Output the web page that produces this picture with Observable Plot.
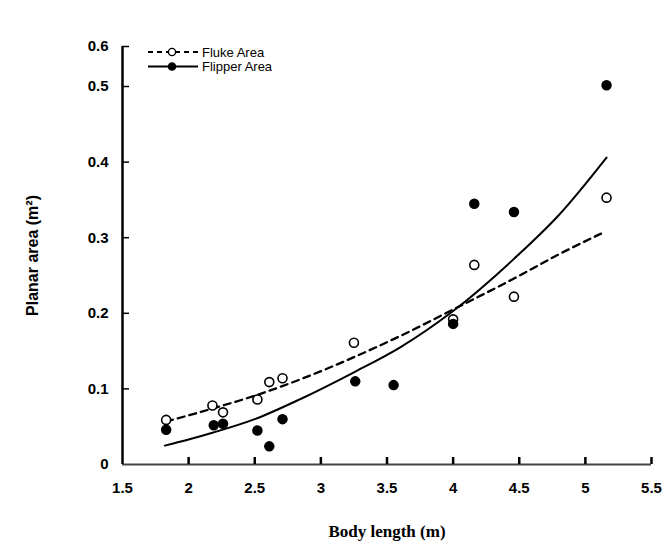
<!DOCTYPE html>
<html><head><meta charset="utf-8">
<script src="https://cdn.jsdelivr.net/npm/d3@7"></script>
<script src="https://cdn.jsdelivr.net/npm/@observablehq/plot@0.6"></script>
<style>
body{margin:0;background:#fff;}
#wrap{position:relative;width:664px;height:544px;}
#legend{position:absolute;left:0;top:0;pointer-events:none;}
g[aria-label="x-axis label"] text{font-family:"Liberation Serif","Times New Roman",serif;font-size:17px;}
g[aria-label="y-axis label"] text{font-size:16px;}
</style></head><body>
<div id="wrap"></div>
<script>
// ---- data ----
const xTicks = [1.5, 2, 2.5, 3, 3.5, 4, 4.5, 5, 5.5];
const yTicks = [0, 0.1, 0.2, 0.3, 0.4, 0.5, 0.6];

const flukeLengths = [1.83, 2.18, 2.26, 2.52, 2.61, 2.71, 3.25, 4.00, 4.16, 4.46, 5.16];
const flukeAreas   = [0.059, 0.078, 0.069, 0.086, 0.109, 0.114, 0.161, 0.192, 0.264, 0.222, 0.353];

const flipperLengths = [1.83, 2.19, 2.26, 2.52, 2.61, 2.71, 3.26, 3.55, 4.00, 4.16, 4.46, 5.16];
const flipperAreas   = [0.046, 0.052, 0.054, 0.045, 0.024, 0.060, 0.110, 0.105, 0.186, 0.345, 0.334, 0.503];

const flukeFitX = [1.83, 2.0, 2.2, 2.5, 2.85, 3.25, 3.6, 4.0, 4.46, 4.8, 5.15];
const flukeFitY = [0.057, 0.065, 0.075, 0.091, 0.113, 0.142, 0.170, 0.205, 0.246, 0.278, 0.308];

const flipperFitX = [1.82, 2.0, 2.18, 2.5, 2.85, 3.25, 3.6, 4.0, 4.46, 4.8, 5.16];
const flipperFitY = [0.025, 0.033, 0.042, 0.060, 0.087, 0.122, 0.155, 0.203, 0.272, 0.330, 0.406];

const seriesNames = ["Fluke Area", "Flipper Area"];

// ---- tables ----
const fluke = flukeLengths.map((x, i) => ({x, y: flukeAreas[i]}));
const flipper = flipperLengths.map((x, i) => ({x, y: flipperAreas[i]}));
const flukeFit = flukeFitX.map((x, i) => ({x, y: flukeFitY[i]}));
const flipperFit = flipperFitX.map((x, i) => ({x, y: flipperFitY[i]}));

const chart = Plot.plot({
  width: 664,
  height: 544,
  marginLeft: 122,
  marginRight: 13,
  marginTop: 46,
  marginBottom: 80,
  style: {fontFamily: "Arial, 'Liberation Sans', sans-serif", fontSize: "15px", fontWeight: "bold", color: "#000", background: "#fff"},
  x: {type: "linear", domain: [1.5, 5.5], range: [122, 651]},
  y: {type: "linear", domain: [0, 0.5, 0.6], range: [464, 86, 46]},
  marks: [
    Plot.ruleY([0], {stroke: "#444", strokeWidth: 2}),
    Plot.ruleX([1.5], {stroke: "#000", strokeWidth: 2.5}),
    // inward tick marks
    Plot.tickX(xTicks.slice(1), {x: d => d, stroke: "#000", strokeWidth: 2.5, insetTop: 411}),
    Plot.tickY(yTicks.slice(1), {y: d => d, stroke: "#000", strokeWidth: 1.5, insetRight: 522}),
    Plot.axisX({ticks: xTicks, tickFormat: d => String(d), tickSize: 0, tickPadding: 18,
      label: "Body length (m)", labelAnchor: "center", labelOffset: 72, labelArrow: "none"}),
    Plot.axisY({ticks: yTicks, tickFormat: d => String(d), tickSize: 0, tickPadding: 14,
      label: "Planar area (m²)", labelAnchor: "center", labelOffset: 96, labelArrow: "none"}),
    Plot.line(flukeFit, {x: "x", y: "y", stroke: "#000", strokeWidth: 2.3, strokeDasharray: "7,5", curve: "monotone-x"}),
    Plot.line(flipperFit, {x: "x", y: "y", stroke: "#000", strokeWidth: 2, curve: "monotone-x"}),
    Plot.dot(fluke, {x: "x", y: "y", r: 4.5, fill: "#fff", stroke: "#000", strokeWidth: 1.6}),
    Plot.dot(flipper, {x: "x", y: "y", r: 4.5, fill: "#000", stroke: "#000"})
  ]
});

const wrap = document.getElementById("wrap");
wrap.appendChild(chart);

// ---- legend (overlay, top-left of plot) ----
const lg = d3.select(wrap).append("svg").attr("id", "legend")
  .attr("width", 664).attr("height", 80)
  .style("font-family", "Arial, 'Liberation Sans', sans-serif").style("font-size", "13px");
const rows = lg.selectAll("g").data(seriesNames).join("g")
  .attr("transform", (d, i) => `translate(148,${52 + i * 14.5})`);
rows.append("line").attr("x1", 0).attr("x2", 50).attr("y1", 0).attr("y2", 0)
  .attr("stroke", "#000").attr("stroke-width", 2)
  .attr("stroke-dasharray", (d, i) => i === 0 ? "5,4" : null);
rows.append("circle").attr("cx", 24).attr("cy", 0).attr("r", 3.6)
  .attr("fill", (d, i) => i === 0 ? "#fff" : "#000").attr("stroke", "#000").attr("stroke-width", 1.4);
rows.append("text").attr("x", 54).attr("y", 0).attr("dy", "0.35em").text(d => d);
</script>
</body></html>
